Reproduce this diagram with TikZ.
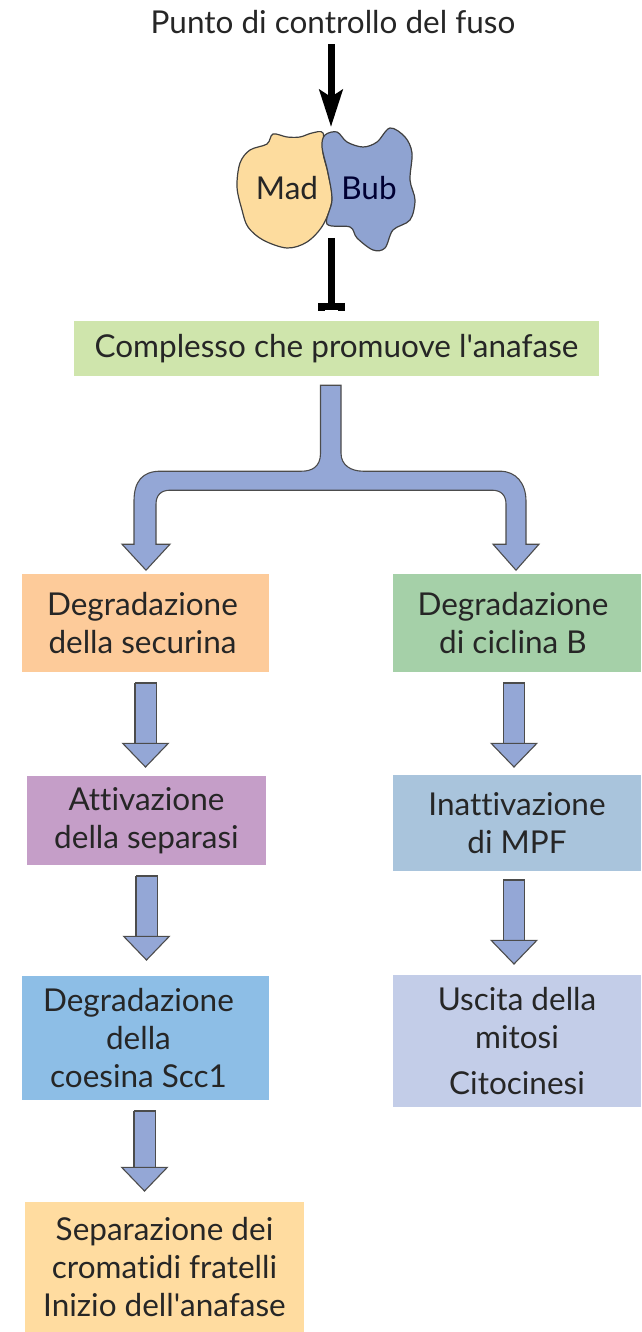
\documentclass[tikz,border=0pt]{standalone}
\usepackage{fontspec}
\setmainfont[Ligatures={TeX,NoCommon}]{Lato}
\usetikzlibrary{arrows.meta}

\definecolor{madfill}{HTML}{FDDC9E}
\definecolor{bubfill}{HTML}{8FA3D1}
\definecolor{arrowfill}{HTML}{94A7D6}

\begin{document}
\begin{tikzpicture}[
        x=1pt, y=-1pt,
        every node/.style = {font=\fontsize{31.5}{38}\selectfont, text=black!85},
        cell/.style = {rectangle, align=center, inner sep=0pt}, % Colored boxes
        blob/.style = {draw=black!75, line width=1.2pt},
        fatarrow/.style = {draw=black!70, line width=1.1pt, double=arrowfill, double distance=20pt,
                {Bar[width=22pt, length=1.5pt]}-{Triangle[length=25pt, width=48pt, fill=arrowfill, line width=1.1pt]}},
        fork/.style = {draw=black!70, line width=1.1pt, fill=arrowfill},
    ]
    \useasboundingbox (0,0) rectangle (641,1332);

    % Mad and Bub
    \draw[blob, fill=madfill] plot[smooth cycle, tension=0.55] coordinates {(323,133) (312,133) (300,137) (287,137) (273,134) (267,144) (250,150) (240,163) (237,187) (242,210) (248,227) (263,240) (287,248) (307,242) (323,225) (332,200) (328,173) (323,153)};
    \draw[blob, fill=bubfill] plot[smooth cycle, tension=0.55] coordinates {(325,135) (337,132) (347,142) (363,147) (377,142) (390,128) (405,137) (412,153) (410,180) (415,200) (410,220) (393,230) (385,248) (373,250) (357,238) (350,227) (327,224) (332,200) (328,173) (322,147)};
    \node (mad) at (287,188) {Mad};
    \node[text=black!80!blue] (bub) at (369,188) {Bub};

    \node (punto) at (333,22) {Punto di controllo del fuso};
    \coordinate (spindle) at (331,127);
    \coordinate (block) at (331,238);

    \node[cell, fill={rgb,255:red,207;green,229;blue,172}, minimum width=525, minimum height=55] (complesso) at (336.5,348.5) {Complesso che promuove l\textquotesingle anafase};

    \node[cell, fill={rgb,255:red,253;green,203;blue,154}, minimum width=247, minimum height=98,
        label={[xshift=-3pt, align=center]center:{Degradazione\\della securina}}] (securina) at (145.5,623) {};
    \node[cell, fill={rgb,255:red,197;green,158;blue,200}, minimum width=239, minimum height=89] (separasi) at (146.5,820.5) {Attivazione\\della separasi};
    \node[cell, fill={rgb,255:red,141;green,190;blue,230}, minimum width=247, minimum height=124,
        label={[xshift=-7pt, align=center]center:{Degradazione\\della\\coesina Scc1}}] (coesina) at (145.5,1038) {};
    \node[cell, fill={rgb,255:red,255;green,220;blue,160}, minimum width=279, minimum height=130] (cromatidi) at (164.5,1267) {Separazione dei\\cromatidi fratelli\\Inizio dell\textquotesingle anafase};

    \node[cell, fill={rgb,255:red,165;green,208;blue,168}, minimum width=248, minimum height=98,
        label={[xshift=-4pt, align=center]center:{Degradazione\\di ciclina B}}] (ciclina) at (517,623) {};
    \node[cell, fill={rgb,255:red,169;green,196;blue,220}, minimum width=248, minimum height=96] (mpf) at (517,823) {Inattivazione\\di MPF};
    \node[cell, fill={rgb,255:red,195;green,205;blue,232}, minimum width=248, minimum height=132] (mitosi) at (517,1041) {Uscita della\\mitosi\\[8pt]Citocinesi};

    % Arrow and bar on the checkpoint
    \draw[line width=7pt, -{Stealth[length=37pt, width=23pt, inset=7pt]}] (punto.south -| spindle) ++(0,7) -- (spindle);
    \draw[line width=7pt, shorten >=10pt, -{Bar[width=27pt, length=8pt]}] (block) -- (block |- complesso.north);

    % Branching arrow
    \draw[fork] ([xshift=-16pt, yshift=-9pt]complesso.south) -- ++(0,68)
        .. controls +(0,14) and +(10,0) .. ++(-19,18) -- ++(-141,0)
        .. controls +(-18,0) and +(0,-20) .. ++(-26.5,30) -- ++(0,43)
        -- ++(-12,0) -- ++(24,26) -- ++(24,-26) -- ++(-14,0) -- ++(0,-40)
        .. controls +(0,-9) and +(-9,0) .. ++(14,-14) -- ++(322,0)
        .. controls +(9,0) and +(0,-9) .. ++(14,14) -- ++(0,40)
        -- ++(-13,0) -- ++(23,26) -- ++(23,-26) -- ++(-13,0) -- ++(0,-43)
        .. controls +(0,-18) and +(16,0) .. ++(-26,-30) -- ++(-137,0)
        .. controls +(-12,0) and +(0,12) .. ++(-22,-18) -- ++(0,-68) -- cycle;

    % Block arrows between boxes
    \draw[fatarrow, shorten <=10pt, shorten >=8pt] (securina.south) -- (securina.south |- separasi.north);
    \draw[fatarrow, shorten <=10pt, shorten >=15pt] (separasi.south) -- (separasi.south |- coesina.north);
    \draw[fatarrow, shorten <=10pt, shorten >=10pt] ([xshift=-1pt]coesina.south) -- ([xshift=-1pt]coesina.south |- cromatidi.north);
    \draw[fatarrow, shorten <=10pt, shorten >=7pt] ([xshift=-3pt]ciclina.south) -- ([xshift=-3pt]ciclina.south |- mpf.north);
    \draw[fatarrow, shorten <=8pt, shorten >=10pt] ([xshift=-3pt]mpf.south) -- ([xshift=-3pt]mpf.south |- mitosi.north);

\end{tikzpicture}
\end{document}
